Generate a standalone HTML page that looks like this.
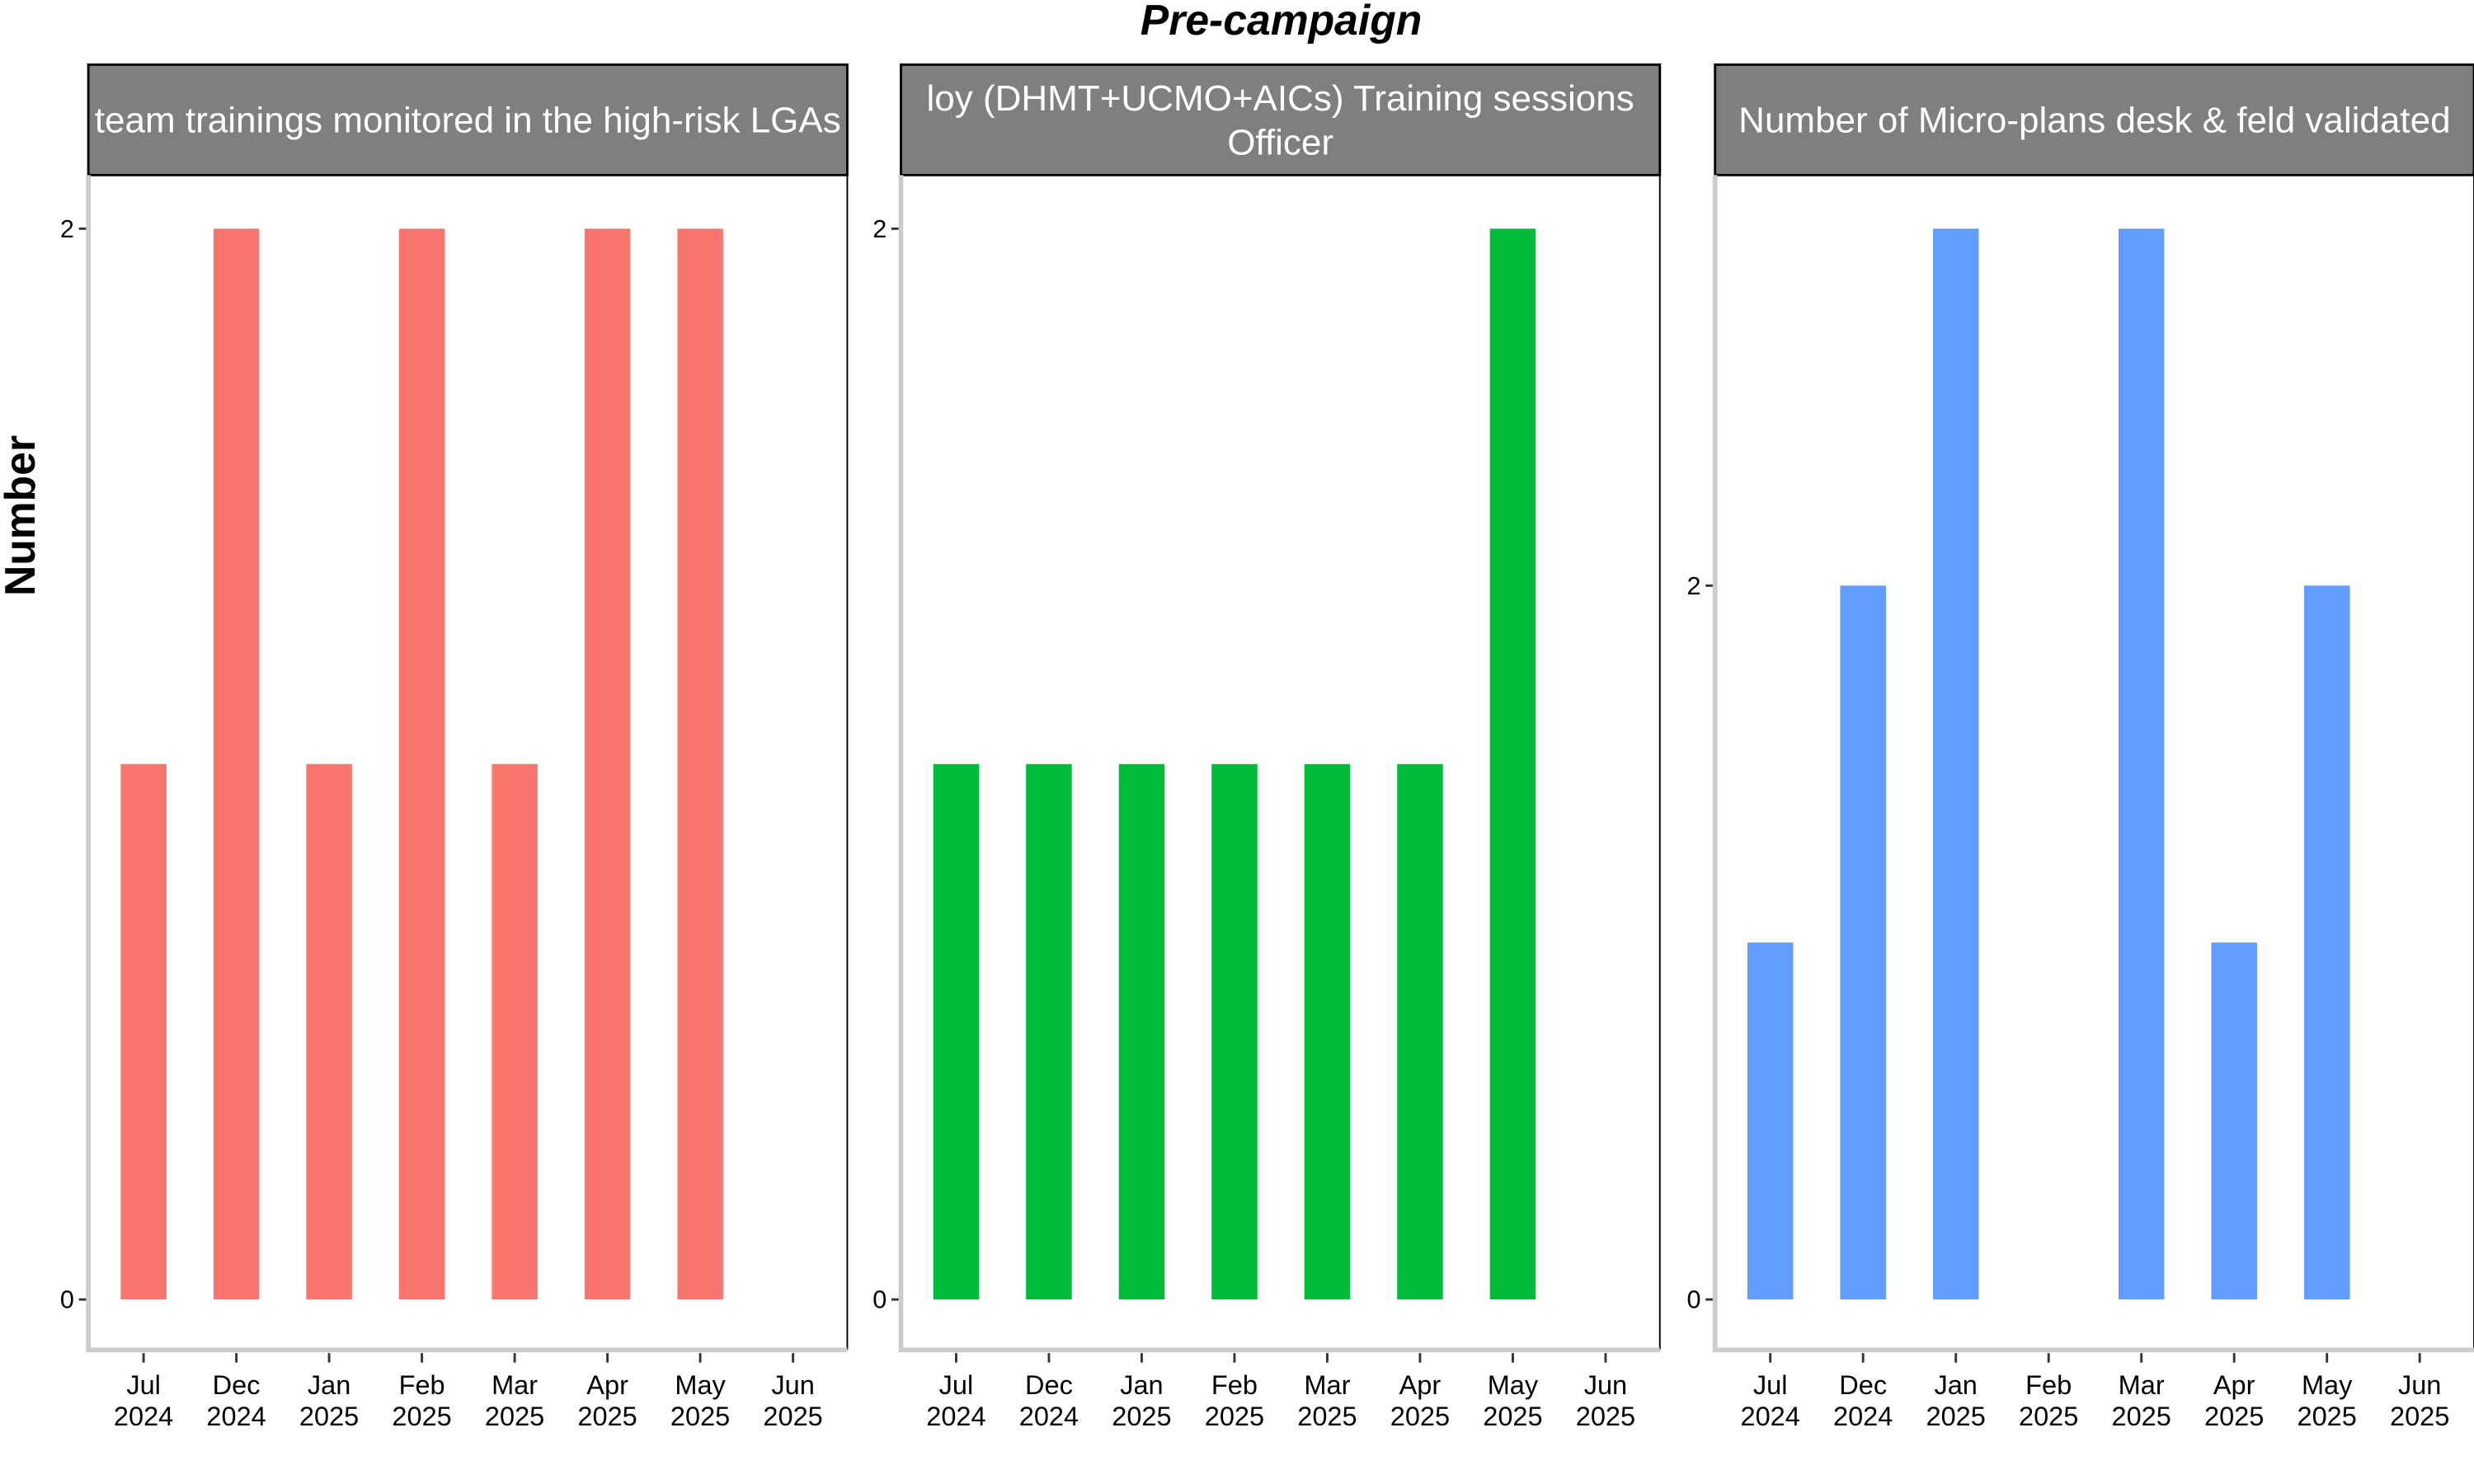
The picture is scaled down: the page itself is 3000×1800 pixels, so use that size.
<!DOCTYPE html>
<html><head><meta charset="utf-8"><style>
html,body{margin:0;padding:0;background:#fff;}
svg{display:block;}
text{font-family:"Liberation Sans",Arial,sans-serif;}
</style></head><body>
<svg id="chart" width="3000" height="1800" viewBox="0 0 1568 941" preserveAspectRatio="none" xmlns="http://www.w3.org/2000/svg">
<defs>
<clipPath id="c0"><rect x="56" y="41" width="481" height="70"/></clipPath>
<clipPath id="c1"><rect x="571" y="41" width="481" height="70"/></clipPath>
<clipPath id="c2"><rect x="1087" y="41" width="481" height="70"/></clipPath>
</defs>
<text x="812" y="22" text-anchor="middle" font-size="27" font-weight="bold" font-style="italic">Pre-campaign</text>
<text transform="translate(22,327) rotate(-90)" text-anchor="middle" font-size="27" font-weight="bold">Number</text>
<g id="panels"></g>
</svg>
<script>
const categories = ["Jul\n2024","Dec\n2024","Jan\n2025","Feb\n2025","Mar\n2025","Apr\n2025","May\n2025","Jun\n2025"];
const series1 = [1,2,1,2,1,2,2,null];
const series2 = [1,1,1,1,1,1,2,null];
const series3 = [1,2,3,null,3,1,2,null];
const ticks1 = [0,2];
const ticks2 = [0,2];
const ticks3 = [0,2];
const stripTitles = [
  ["team trainings monitored in the high-risk LGAs"],
  ["loy (DHMT+UCMO+AICs) Training sessions","Officer"],
  ["Number of Micro-plans desk & feld validated"]
];
const ns="http://www.w3.org/2000/svg";
const panelGroup=document.getElementById('panels');
function mk(t,a,p){const e=document.createElementNS(ns,t);for(const k in a)e.setAttribute(k,a[k]);(p||panelGroup).appendChild(e);return e;}
const panelDefs=[
 {x:56,vals:series1,ticks:ticks1,max:2,color:"#F8766D",name:"team-trainings"},
 {x:571,vals:series2,ticks:ticks2,max:2,color:"#00BA38",name:"training-sessions"},
 {x:1087,vals:series3,ticks:ticks3,max:3,color:"#619CFF",name:"micro-plans"}
];
const panelW=481, plotTop=111, plotBottom=856, yZero=824, yMaxPx=145;
panelDefs.forEach((p,i)=>{
  const pg=mk('g',{});
  
  
  const yScale=v=>yZero-(yZero-yMaxPx)*v/p.max;
  const xScale=j=>p.x+35+j*58.8;
  const st=mk('rect',{x:p.x,y:41,width:panelW,height:70,fill:"#7f7f7f",stroke:"#000","stroke-width":1.5},pg);
  
  
  const lines=stripTitles[i];
  const tg=mk('g',{'clip-path':'url(#c'+i+')'},pg);
  lines.forEach((l,k)=>{
    const ty = lines.length===1 ? 84 : 70+k*28;
    const t=mk('text',{x:p.x+panelW/2,y:ty,'text-anchor':'middle','font-size':23,fill:'#fff'},tg);
    t.textContent=l;
    
    
  });
  mk('line',{x1:p.x+panelW,y1:plotTop,x2:p.x+panelW,y2:plotBottom,stroke:'#000','stroke-width':1},pg);
  mk('line',{x1:p.x,y1:plotTop,x2:p.x,y2:plotBottom+1.5,stroke:'#cccccc','stroke-width':3},pg);
  mk('line',{x1:p.x-1.5,y1:plotBottom,x2:p.x+panelW,y2:plotBottom,stroke:'#cccccc','stroke-width':3},pg);
  p.ticks.forEach(v=>{
    const y=yScale(v);
    mk('line',{x1:p.x-6,y1:y,x2:p.x-1.5,y2:y,stroke:'#333','stroke-width':1.5},pg);
    const t=mk('text',{x:p.x-9,y:y+5.5,'text-anchor':'end','font-size':16,fill:'#000'},pg);
    t.textContent=v;
    
    
  });
  p.vals.forEach((v,j)=>{
    if(v===null)return;
    const x=xScale(j);
    const r=mk('rect',{x:x-14.5,y:yScale(v),width:29,height:yZero-yScale(v),fill:p.color},pg);
    
    
  });
  categories.forEach((c,j)=>{
    const x=xScale(j);
    mk('line',{x1:x,y1:plotBottom+2,x2:x,y2:plotBottom+8,stroke:'#333','stroke-width':1.5},pg);
    c.split("\n").forEach((l,k)=>{
      const t=mk('text',{x:x,y:884+k*20,'text-anchor':'middle','font-size':17,fill:'#000'},pg);
      t.textContent=l;
      
      
    });
  });
});
</script>
</body></html>
